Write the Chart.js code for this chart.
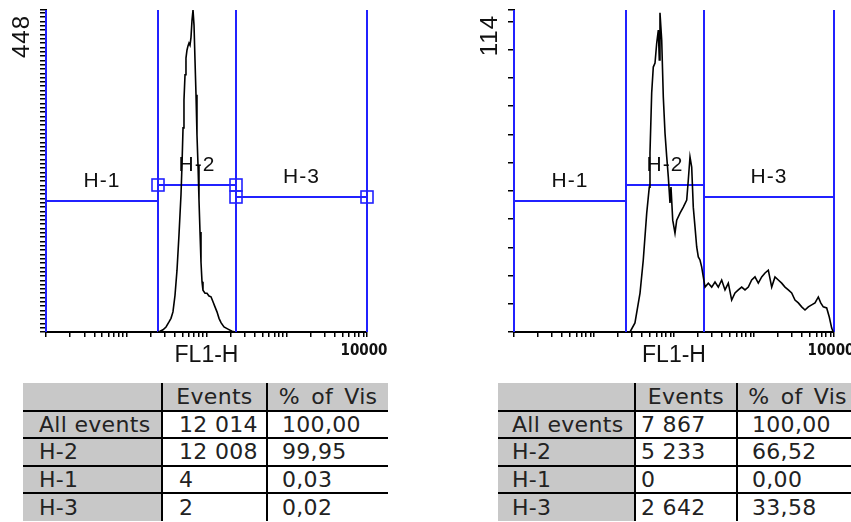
<!DOCTYPE html>
<html>
<head>
<meta charset="utf-8">
<script src="https://cdn.jsdelivr.net/npm/chart.js@4.4.1/dist/chart.umd.min.js"></script>
<style>
  html, body { margin: 0; padding: 0; background: #fff; }
  body { width: 851px; height: 522px; position: relative; overflow: hidden; }
  canvas.plot { position: absolute; top: 0; }
  #plotA { left: 0; }
  #plotB { left: 468px; }
  table.stats {
    position: absolute; top: 383px;
    border-collapse: collapse; table-layout: fixed;
    font-family: "DejaVu Sans", Verdana, sans-serif; font-size: 22px; color: #222;
    letter-spacing: 0.3px;
  }
  table.stats td {
    height: 27.5px; padding: 0; white-space: nowrap; overflow: hidden;
    line-height: 25px; background: #fff; box-sizing: border-box;
  }
  table.stats tr + tr td { border-top: 2px solid #000; }
  table.stats td + td { border-left: 2px solid #000; }
  table.stats tr:first-child td, table.stats td:first-child { background: #c8c8c8; }
  table.stats tr:first-child td { text-align: center; word-spacing: 4px; }
  #tableA { left: 23px; }
  #tableB { left: 498px; }
</style>
</head>
<body>
<canvas id="plotA" class="plot" width="400" height="370"></canvas>
<canvas id="plotB" class="plot" width="383" height="370"></canvas>
<table id="tableA" class="stats"></table>
<table id="tableB" class="stats"></table>

<script>
// FL1-H histogram, sample A (channel value, event count)
const fl1A = [24.9, 26.3, 28.7, 31.3, 34.1, 36.1, 38.2, 40.5, 42.9, 45.4, 48.1, 49.5, 51.0, 52.4,
  54.0, 55.5, 57.1, 58.8, 60.5, 62.3, 64.1, 66.0, 67.9, 69.9, 71.9, 74.0, 76.1, 78.4, 80.6, 83.0,
  85.4, 87.9, 90.4, 95.8, 101.4, 107.5, 113.8, 120.5, 127.6, 135.1, 143.2, 151.6, 165.2, 185.3,
  207.9, 226.6];
const countA = [0, 1, 3, 7, 14, 19, 28, 51, 86, 135, 191, 232, 284, 323,
  358, 381, 392, 398, 402, 399, 410, 434, 448, 427, 378, 330, 274, 232, 184, 139,
  97, 70, 58, 54, 54, 50, 49, 42, 35, 28, 19, 13, 7, 4,
  1, 0];

// FL1-H histogram, sample B
const fl1B = [28.2, 32.5, 37.6, 41.3, 45.6, 49.1, 50.1, 52.6, 55.1, 57.9, 60.8, 63.7, 65.5, 66.8,
  70.2, 73.5, 77.2, 81.1, 84.9, 89.1, 91.7, 96.4, 102.9, 108.1, 118.9, 130.7, 144.2, 150.9,
  158.5, 166.4, 174.2, 183.0, 192.2, 201.3, 211.3, 222.0, 232.4, 244.2, 268.5, 296.0, 325.5,
  358.1, 394.5, 434.0, 477.5, 526.0, 578.8, 636.8, 701.5, 771.8, 849.2, 935.5, 1029, 1132,
  1248, 1373, 1510, 1664, 1830, 2014, 2219, 2441, 2685, 2958, 3254, 3581, 3945, 4340, 4775,
  5260, 5788, 6368, 6823, 7345, 8103, 8730, 9354, 9800];
const countB = [0, 3.2, 13.8, 25.5, 42.1, 51.3, 63.4, 84.6, 93.8, 95.2, 102.3, 106.9, 96.3, 113,
  103.4, 83.2, 70.4, 62.0, 54.9, 45.7, 51.3, 39.6, 35.0, 39.6, 42.1, 44.2, 46.7, 53.8,
  62.0, 58.4, 44.2, 37.2, 30.1, 26.6, 25.5, 23.0, 19.5, 15.9, 17.3, 15.9, 17.7,
  15.9, 18.4, 14.9, 17.3, 11.3, 13.8, 14.9, 15.9, 14.9, 15.9, 18.4, 19.5, 17.3,
  19.5, 20.9, 21.9, 15.9, 19.5, 18.4, 17.3, 15.9, 14.9, 13.8, 11.3, 10.3, 8.9, 7.8, 8.9,
  9.6, 10.3, 12.4, 10.3, 8.9, 8.5, 5.3, 1.4, 0];

// Axis ranges
const xMin = 1;
const xMax = 10000;
const yMaxA = 448;
const yMaxB = 114;
const xTickLabels = ['10000'];

// Histogram markers (FL1-H ranges)
const gateNames = ['H-1', 'H-2', 'H-3'];
const gateLowA = [1, 25, 233];
const gateHighA = [25, 233, 10000];
const gateLowB = [1, 25, 237];
const gateHighB = [25, 237, 10000];

// Statistics tables
const statRows = ['All events', 'H-2', 'H-1', 'H-3'];
const eventsA = [12014, 12008, 4, 2];
const pctA = [100.00, 99.95, 0.03, 0.02];
const eventsB = [7867, 5233, 0, 2642];
const pctB = [100.00, 66.52, 0.00, 33.58];
const statHeaders = ['', 'Events', '% of Vis'];

const BLUE = '#2121ff';
const LABEL_FONT = '"Liberation Sans", Arial, sans-serif';

// Markers: vertical bounds, horizontal bars, names and optional handle boxes
const gatePlugin = {
  id: 'gates',
  beforeDatasetsDraw(chart, args, o) {
    const { ctx, chartArea: a, scales: { x } } = chart;
    ctx.save();
    ctx.strokeStyle = BLUE;
    ctx.lineWidth = 2;
    const bounds = new Set([...o.low, ...o.high]);
    bounds.forEach(v => {
      const px = Math.round(x.getPixelForValue(v));
      ctx.beginPath(); ctx.moveTo(px, a.top); ctx.lineTo(px, a.bottom); ctx.stroke();
    });
    ctx.font = '21px ' + LABEL_FONT;
    ctx.fillStyle = '#111';
    ctx.textAlign = 'center';
    ctx.textBaseline = 'middle';
    ctx.letterSpacing = '1px';
    o.names.forEach((name, i) => {
      const x0 = Math.round(x.getPixelForValue(o.low[i]));
      const x1 = Math.round(x.getPixelForValue(o.high[i]));
      const py = Math.round(a.bottom - o.levels[i] * (a.bottom - a.top));
      ctx.beginPath(); ctx.moveTo(x0, py); ctx.lineTo(x1, py); ctx.stroke();
      ctx.fillText(name, (x0 + x1) / 2, py - 20);
      if (o.handles.includes(i)) {
        ctx.lineWidth = 1.6;
        ctx.strokeRect(x0 - 6, py - 6, 12, 12);
        ctx.strokeRect(x1 - 6, py - 6, 12, 12);
        ctx.lineWidth = 2;
      }
    });
    ctx.restore();
  }
};

// Full-scale count, written vertically at the top of the count axis
const yMaxLabel = {
  id: 'yMaxLabel',
  afterDraw(chart) {
    const { ctx, chartArea: a, scales: { y } } = chart;
    ctx.save();
    ctx.translate(a.left - 24, a.top + 5);
    ctx.rotate(-Math.PI / 2);
    ctx.font = '24px ' + LABEL_FONT;
    ctx.fillStyle = '#111';
    ctx.textAlign = 'right';
    ctx.textBaseline = 'middle';
    ctx.letterSpacing = '1px';
    ctx.fillText(String(y.max), 0, 0);
    ctx.restore();
  }
};

function logTicks(min, max) {
  const out = [];
  for (let d = min; d < max; d *= 10) {
    for (let k = 1; k < 10; k++) out.push(d * k);
  }
  out.push(max);
  return out;
}

function makeHistogram(id, fl1, counts, yMax, yStep, low, high, handles, rightPad) {
  new Chart(document.getElementById(id), {
    type: 'line',
    data: {
      datasets: [{
        data: fl1.map((v, i) => ({ x: v, y: counts[i] })),
        borderColor: '#000',
        borderWidth: 1.6,
        pointRadius: 0,
        tension: 0,
        fill: false
      }]
    },
    options: {
      responsive: false,
      animation: false,
      devicePixelRatio: 1,
      layout: { padding: { top: 10, right: rightPad, left: 0, bottom: 0 } },
      plugins: {
        legend: { display: false },
        tooltip: { enabled: false },
        gates: {
          names: gateNames, low, high, handles,
          levels: [0.407, 0.457, 0.419]
        }
      },
      scales: {
        x: {
          type: 'logarithmic',
          min: xMin,
          max: xMax,
          afterBuildTicks(s) { s.ticks = logTicks(xMin, xMax).map(v => ({ value: v })); },
          afterFit(s) { s.height = 38; s.paddingLeft = 0; s.paddingRight = 0; },
          grid: { drawOnChartArea: false, drawTicks: true, tickLength: 5, color: '#000', lineWidth: 1.5 },
          border: { display: true, color: '#000', width: 2 },
          ticks: {
            autoSkip: false, maxRotation: 0, minRotation: 0, padding: 5, labelOffset: -3,
            color: '#111',
            font: { family: '"DejaVu Sans Condensed", sans-serif', size: 15, weight: 'bold' },
            callback(v) { return xTickLabels.includes(String(v)) ? String(v) : ''; }
          },
          title: {
            display: true, text: 'FL1-H', color: '#111',
            font: { family: LABEL_FONT, size: 23 },
            padding: { top: 0, bottom: 1 }
          }
        },
        y: {
          min: 0,
          max: yMax,
          afterBuildTicks(s) {
            const t = [];
            for (let v = 0; v < yMax; v += yStep) t.push({ value: v });
            t.push({ value: yMax });
            s.ticks = t;
          },
          afterFit(s) { s.width = 46; s.paddingTop = 0; s.paddingBottom = 0; },
          grid: { drawOnChartArea: false, drawTicks: true, tickLength: 6, color: '#000', lineWidth: 1.5 },
          border: { display: true, color: '#000', width: 2 },
          ticks: { display: false }
        }
      }
    },
    plugins: [gatePlugin, yMaxLabel]
  });
}

makeHistogram('plotA', fl1A, countA, yMaxA, 6, gateLowA, gateHighA, [1, 2], 33);
makeHistogram('plotB', fl1B, countB, yMaxB, 10, gateLowB, gateHighB, [], 17);

// Statistics tables
function fmtCount(n) { return String(n).replace(/\B(?=(\d{3})+(?!\d))/g, ' '); }
function fmtPct(p) { return p.toFixed(2).replace('.', ','); }

function buildTable(id, events, pct, widths, pads) {
  const t = document.getElementById(id);
  const cg = document.createElement('colgroup');
  widths.forEach(w => { const c = document.createElement('col'); c.style.width = w + 'px'; cg.appendChild(c); });
  t.appendChild(cg);
  t.style.width = widths.reduce((s, w) => s + w, 0) + 'px';
  const head = t.insertRow();
  statHeaders.forEach(h => { head.insertCell().textContent = h; });
  statRows.forEach((name, i) => {
    const r = t.insertRow();
    [name, fmtCount(events[i]), fmtPct(pct[i])].forEach((txt, j) => {
      const c = r.insertCell();
      c.textContent = txt;
      c.style.paddingLeft = pads[j] + 'px';
    });
  });
}

buildTable('tableA', eventsA, pctA, [139, 105, 121], [16, 16, 14]);
buildTable('tableB', eventsB, pctB, [137, 102, 120], [14, 5, 14]);
</script>
</body>
</html>
